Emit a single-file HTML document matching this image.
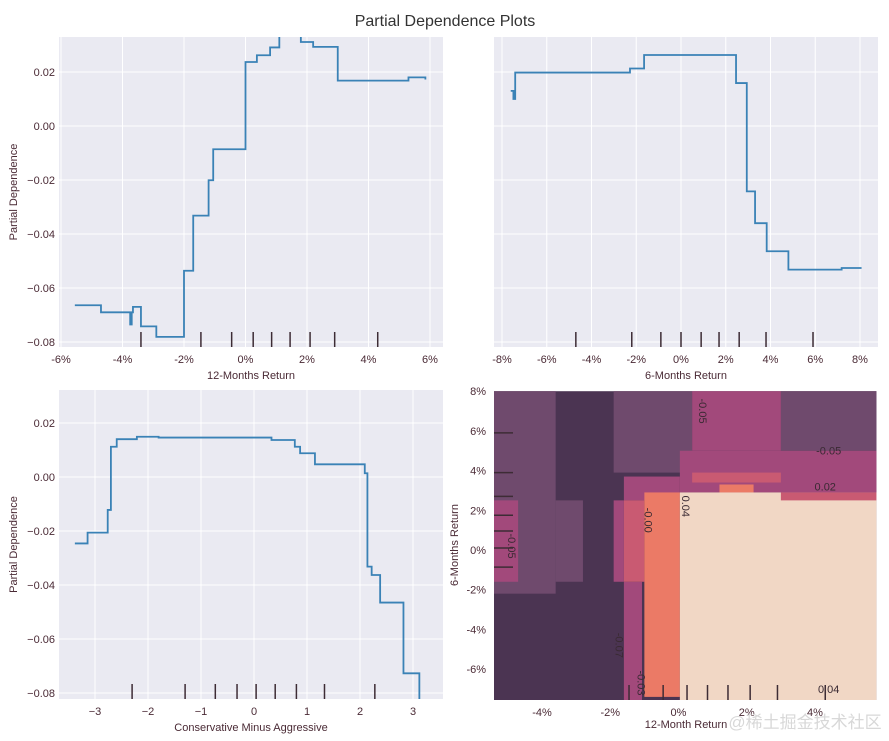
<!DOCTYPE html>
<html><head><meta charset="utf-8"><style>
html,body{margin:0;padding:0;background:#fff;}
svg{display:block;font-family:"Liberation Sans","Noto Sans CJK SC",sans-serif;}
.tk{font-size:11px;fill:#4a2a35;}
.al{font-size:11px;fill:#4a2a35;}
</style></head><body>
<svg id="fig" width="889" height="741" viewBox="0 0 889 741">
<text x="445" y="26" text-anchor="middle" font-size="16" fill="#333">Partial Dependence Plots</text>
<g id="g1"></g>
<g id="g2"></g>
<g id="g3"></g>
<g id="g4"></g>
<text x="805" y="728" text-anchor="middle" font-size="17" fill="#d8d8d8">@稀土掘金技术社区</text>
</svg>
<script>
// ---- data ----
const p1X = [-5.55,-4.7,-3.75,-3.7,-3.66,-3.4,-2.9,-2.0,-1.7,-1.2,-1.05,0.0,0.37,0.8,1.1,1.8,2.2,3.0,5.3,5.85];
const p1Y = [-0.0664,-0.069,-0.0735,-0.069,-0.067,-0.0742,-0.0781,-0.0536,-0.0332,-0.0201,-0.0086,0.0237,0.0262,0.0291,0.0335,0.0311,0.0293,0.0168,0.018,0.0172];
const p1Rug = [-3.4,-1.45,-0.45,0.25,0.85,1.45,2.1,2.9,4.3];
const p1XTicks = [-6,-4,-2,0,2,4,6];

const p2X = [-7.61,-7.49,-7.41,-2.28,-1.65,2.46,2.53,2.94,3.31,3.83,4.8,7.18,8.07];
const p2Y = [0.013,0.010,0.0198,0.0213,0.0263,0.0159,0.0159,-0.0242,-0.036,-0.0464,-0.0532,-0.0526,-0.0526];
const p2Rug = [-4.7,-2.2,-0.9,0,0.9,1.7,2.6,3.8,5.9];
const p2XTicks = [-8,-6,-4,-2,0,2,4,6,8];

const p3X = [-3.38,-3.14,-2.76,-2.70,-2.59,-2.21,-1.80,0.33,0.77,0.87,1.15,2.03,2.09,2.14,2.22,2.38,2.75,2.82,3.07,3.12];
const p3Y = [-0.0246,-0.0206,-0.0122,0.0112,0.014,0.0149,0.0146,0.0137,0.0112,0.0088,0.0047,0.0047,0.0014,-0.0332,-0.0363,-0.0465,-0.0465,-0.0727,-0.0727,-0.0826];
const p3Rug = [-2.3,-1.3,-0.73,-0.32,0.04,0.4,0.8,1.33,2.28];
const p3XTicks = [-3,-2,-1,0,1,2,3];

const yTicks = [0.02,0.0,-0.02,-0.04,-0.06,-0.08];
const yTickLabels = ["0.02","0.00","\u22120.02","\u22120.04","\u22120.06","\u22120.08"];

// 2D contour regions: [x0,x1,y0,y1,level]
const heatRegions = [
 [-5.7,5.8,-7.6,8,0],
 [-5.7,-3.6,-2.2,8,1],[-3.6,-2.8,-1.6,2.5,1],[-1.9,0.4,3.9,8,1],[3.0,5.8,5.0,8,1],
 [0.4,3.0,5.0,8,2],[0.04,5.8,2.9,5.0,2],[-1.6,0.04,2.5,3.7,2],[-1.9,-1.6,-1.6,2.5,2],[-1.6,-1.07,-7.6,-1.6,2],[-5.7,-4.7,-1.6,2.5,2],
 [-1.6,-1.0,-1.6,2.5,3],[0.4,3.0,3.4,3.9,3],
 [-1.0,0.04,-7.4,2.9,4],[1.2,2.2,2.9,3.3,4],
 [0.04,5.8,-7.6,2.9,5],[3.0,5.8,2.5,2.9,3]
];
const heatColors = ["#4b3452","#6f4a6d","#a2497b","#c95a72","#eb7a66","#f1d7c5"];
const heatLabels = [["-0.05",-5.0,0.2],["-0.05",0.6,7.0],["-0.05",4.4,4.8],["0.02",4.3,3.0],["-0.00",-1.0,1.5],["0.04",0.1,2.2],["-0.07",-1.85,-4.8],["-0.03",-1.2,-6.7],["0.04",4.4,-7.2]];
const brXRug = [-1.45,-0.45,0.25,0.85,1.45,2.1,2.9,4.3];
const brYRug = [5.9,3.9,2.7,1.75,0.96,0.1,-0.86];
const brXTicks = [-4,-2,0,2,4];
const brYTicks = [8,6,4,2,0,-2,-4,-6];

const NS="http://www.w3.org/2000/svg";
function mk(parent,tag,attrs){const e=document.createElementNS(NS,tag);for(const k in attrs)e.setAttribute(k,attrs[k]);parent.appendChild(e);return e;}

function lineScale(d0,d1,p0,p1){return v=>p0+(v-d0)*(p1-p0)/(d1-d0);}

function linePanel(gid,box,xs,ys,xTicks,xFmt,px,py,rug,xlabel,showY,cid){
  const g=document.getElementById(gid);
  const bg=mk(g,'rect',{x:box.x0,y:box.y0,width:box.x1-box.x0,height:box.y1-box.y0,fill:'#eaeaf2'});
  
  
  const cp=mk(g,'clipPath',{id:cid});mk(cp,'rect',{x:box.x0,y:box.y0,width:box.x1-box.x0,height:box.y1-box.y0});
  xTicks.forEach(t=>{const X=px(t);
    const gl=mk(g,'line',{x1:X,x2:X,y1:box.y0,y2:box.y1,stroke:'#fff','stroke-width':1});
    
    
    const tx=mk(g,'text',{x:X,y:box.y1+16,'text-anchor':'middle',class:'tk'});tx.textContent=xFmt(t);
    
    
  });
  yTicks.forEach((t,i)=>{const Y=py(t);
    const gl=mk(g,'line',{x1:box.x0,x2:box.x1,y1:Y,y2:Y,stroke:'#fff','stroke-width':1});
    
    
    if(showY){const tx=mk(g,'text',{x:box.x0-4,y:Y+4,'text-anchor':'end',class:'tk'});tx.textContent=yTickLabels[i];
      
      }
  });
  rug.forEach(r=>{const X=px(r);
    const l=mk(g,'line',{x1:X,x2:X,y1:box.y1-15,y2:box.y1,stroke:'#3d2c35','stroke-width':1.5});
    
    
  });
  let d='M'+px(xs[0])+','+py(ys[0]);
  for(let i=1;i<xs.length;i++){d+=' H'+px(xs[i])+' V'+py(ys[i]);}
  const path=mk(g,'path',{d:d,fill:'none',stroke:'#3a82b6','stroke-width':1.8,'clip-path':'url(#'+cid+')'});
  
  
  const xl=mk(g,'text',{x:(box.x0+box.x1)/2,y:box.y1+32,'text-anchor':'middle',class:'al'});xl.textContent=xlabel;
  
  
  if(showY){const cy=(box.y0+box.y1)/2;const yl=mk(g,'text',{x:17,y:cy,'text-anchor':'middle',class:'al',transform:'rotate(-90 17 '+cy+')'});yl.textContent='Partial Dependence';
    
    }
}
const pct=t=>(t<0?'-':'')+Math.abs(t)+'%';
const num=t=>(t<0?'\u2212':'')+Math.abs(t);

const b1={x0:59,x1:443,y0:37,y1:347};
linePanel('g1',b1,p1X,p1Y,p1XTicks,pct,lineScale(0,6,245.5,430),lineScale(0,0.02,126,72),p1Rug,'12-Months Return',true,'c1');
const b2={x0:494,x1:878,y0:37,y1:347};
linePanel('g2',b2,p2X,p2Y,p2XTicks,pct,lineScale(0,8,681,860),lineScale(0,0.02,126,72),p2Rug,'6-Months Return',false,'c2');
const b3={x0:59,x1:443,y0:390,y1:699};
linePanel('g3',b3,p3X,p3Y,p3XTicks,num,lineScale(0,3,254,413),lineScale(0,0.02,477,423),p3Rug,'Conservative Minus Aggressive',true,'c3');

// contour panel
(function(){
  const g=document.getElementById('g4');
  const box={x0:494,x1:878,y0:390,y1:700};
  const sx=lineScale(0,4,678.5,815), sy=lineScale(0,2,550,510.3);
  const cp=mk(g,'clipPath',{id:'c4'});mk(cp,'rect',{x:box.x0,y:box.y0,width:box.x1-box.x0,height:box.y1-box.y0});
  const cg=mk(g,'g',{'clip-path':'url(#c4)'});
  heatRegions.forEach(r=>{
    const x0=sx(r[0]),x1=sx(r[1]),y0=sy(r[3]),y1=sy(r[2]);
    const rc=mk(cg,'rect',{x:x0,y:y0,width:x1-x0,height:y1-y0,fill:heatColors[r[4]]});
    
    
  });
  heatLabels.forEach(l=>{
    const X=sx(l[1]),Y=sy(l[2]);const vert=!(l[0]==='0.02'||(l[0]==='-0.05'&&l[1]>4)||(l[0]==='0.04'&&l[2]<-7));
    const t=mk(cg,'text',{x:X,y:Y,'text-anchor':'middle','font-size':11,fill:'#3a2a33',transform:vert?'rotate(90 '+X+' '+Y+')':''});t.textContent=l[0];
    
    
  });
  brXRug.forEach(r=>{const X=sx(r);
    const l=mk(cg,'line',{x1:X,x2:X,y1:box.y1-15,y2:box.y1,stroke:'#3d2c35','stroke-width':1.5});
    
    });
  brYRug.forEach(r=>{const Y=sy(r);
    const l=mk(cg,'line',{x1:box.x0,x2:box.x0+19,y1:Y,y2:Y,stroke:'#3d2c35','stroke-width':1.5});
    
    });
  brXTicks.forEach(t=>{const tx=mk(g,'text',{x:sx(t),y:box.y1+16,'text-anchor':'middle',class:'tk'});tx.textContent=pct(t);
    
    });
  brYTicks.forEach(t=>{const tx=mk(g,'text',{x:box.x0-8,y:sy(t)+4,'text-anchor':'end',class:'tk'});tx.textContent=pct(t);
    
    });
  const xl=mk(g,'text',{x:686,y:box.y1+28,'text-anchor':'middle',class:'al'});xl.textContent='12-Month Return';
  
  
  const yl=mk(g,'text',{x:458,y:545,'text-anchor':'middle',class:'al',transform:'rotate(-90 458 545)'});yl.textContent='6-Months Return';
  
  
})();
</script>
</body></html>
